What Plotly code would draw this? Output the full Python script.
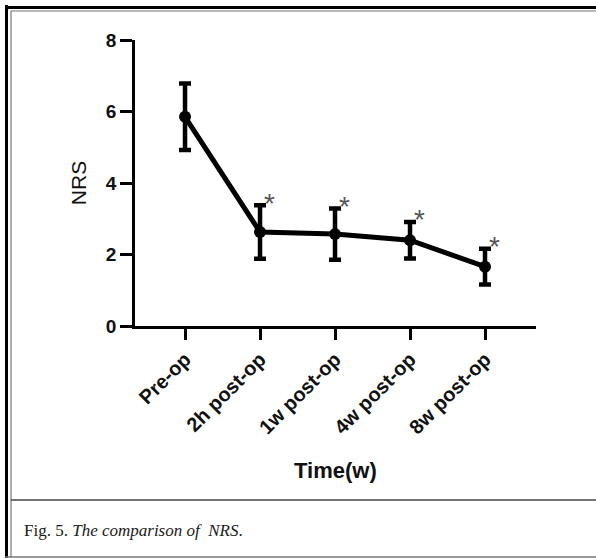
import plotly.graph_objects as go

categories = ["Pre-op", "2h post-op", "1w post-op", "4w post-op", "8w post-op"]
nrs_mean = [5.85, 2.63, 2.57, 2.40, 1.66]
nrs_err = [0.93, 0.75, 0.72, 0.51, 0.50]
significant = [False, True, True, True, True]
y_ticks = [0, 2, 4, 6, 8]

W, H = 596, 558
L, R, T, B = 135, 536, 40, 326

def px(x):
    return (x - L) / (R - L)

def py(y):
    return (B - y) / (B - T)

fig = go.Figure()
fig.add_trace(go.Scatter(
    x=categories, y=nrs_mean,
    mode="lines+markers",
    line=dict(color="black", width=5),
    marker=dict(color="black", size=12),
    error_y=dict(type="data", array=nrs_err, visible=True,
                 color="black", thickness=4.5, width=6),
    showlegend=False, cliponaxis=False,
))

annotations = []
for c, m, e, s in zip(categories, nrs_mean, nrs_err, significant):
    if s:
        annotations.append(dict(
            x=c, y=m + e, xref="x", yref="y", text="*", showarrow=False,
            xanchor="center", yanchor="middle", xshift=9, yshift=2,
            font=dict(family="Liberation Sans", size=28, color="#555555"),
        ))

annotations.append(dict(
    x=0.5, y=py(470), xref="paper", yref="paper", text="<b>Time(w)</b>",
    showarrow=False, xanchor="center", yanchor="middle",
    font=dict(family="Liberation Sans", size=22, color="#111111"),
))
annotations.append(dict(
    x=px(22), y=py(530), xref="paper", yref="paper",
    text="Fig. 5. <i>The comparison of  NRS</i>.",
    showarrow=False, xanchor="left", yanchor="middle",
    font=dict(family="Liberation Serif", size=17, color="#1a1a1a"),
))

shapes = [
    # thick outer frame
    dict(type="line", xref="paper", yref="paper", x0=px(5), x1=px(600), y0=py(7.5), y1=py(7.5),
         line=dict(color="black", width=3)),
    dict(type="line", xref="paper", yref="paper", x0=px(6.5), x1=px(6.5), y0=py(5), y1=py(560),
         line=dict(color="black", width=3)),
    # inner thin frame
    dict(type="line", xref="paper", yref="paper", x0=px(11), x1=px(600), y0=py(11), y1=py(11),
         line=dict(color="#777777", width=1.2)),
    dict(type="line", xref="paper", yref="paper", x0=px(11), x1=px(11), y0=py(11), y1=py(557),
         line=dict(color="#777777", width=1.2)),
    dict(type="line", xref="paper", yref="paper", x0=px(5), x1=px(600), y0=py(557), y1=py(557),
         line=dict(color="#777777", width=1.5)),
    # caption separator
    dict(type="line", xref="paper", yref="paper", x0=px(11), x1=px(600), y0=py(500), y1=py(500),
         line=dict(color="#444444", width=1.5)),
]

fig.update_layout(
    width=W, height=H,
    margin=dict(l=L, r=W - R, t=T, b=H - B),
    paper_bgcolor="white", plot_bgcolor="white",
    annotations=annotations, shapes=shapes,
    xaxis=dict(
        type="category", range=[-0.667, 4.68],
        showline=True, linecolor="black", linewidth=2.5,
        ticks="outside", ticklen=11, tickwidth=2.5, tickcolor="black",
        tickangle=-45, showgrid=False, zeroline=False,
        tickfont=dict(family="Liberation Sans", size=20, color="#111111", weight="bold"),
    ),
    yaxis=dict(
        range=[0, 8], tickvals=y_ticks,
        showline=True, linecolor="black", linewidth=2.5,
        ticks="outside", ticklen=12, tickwidth=2.5, tickcolor="black",
        showgrid=False, zeroline=False,
        tickfont=dict(family="Liberation Sans", size=19, color="#111111", weight="bold"),
        title=dict(text="NRS", standoff=14,
                   font=dict(family="Liberation Sans", size=21, color="#111111")),
    ),
)

fig.write_html(
    "out.html",
    config={"displayModeBar": False},
    post_script=(
        "document.body.style.margin='0';document.body.style.overflow='hidden';"
        "document.documentElement.style.overflow='hidden';"
    ),
)
